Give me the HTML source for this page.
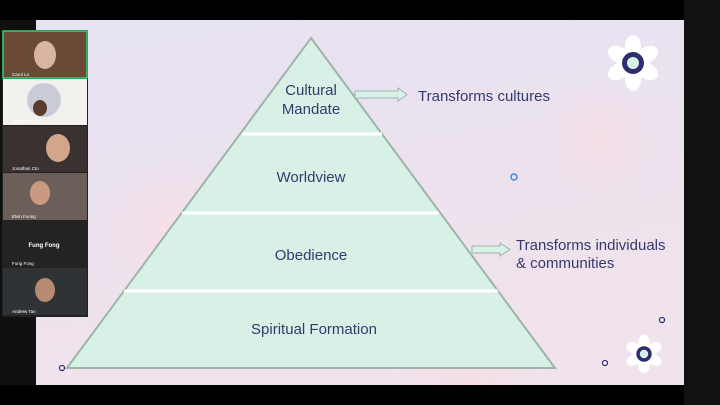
<!DOCTYPE html>
<html><head><style>
html,body{margin:0;padding:0;width:720px;height:405px;overflow:hidden;background:#000}
svg{display:block}
text{font-family:"Liberation Sans",sans-serif}
</style></head><body>
<svg width="720" height="405" viewBox="0 0 720 405" xmlns="http://www.w3.org/2000/svg">
<defs>
<linearGradient id="bg" x1="0" y1="0" x2="0.3" y2="1">
<stop offset="0" stop-color="#e6e2f2"/><stop offset="0.55" stop-color="#ece2ee"/><stop offset="1" stop-color="#f1e3ec"/>
</linearGradient>
<radialGradient id="pk" cx="0.5" cy="0.5" r="0.5"><stop offset="0" stop-color="#f6dfe8"/><stop offset="1" stop-color="#f6dfe8" stop-opacity="0"/></radialGradient>
<clipPath id="sl"><rect x="36" y="20" width="648" height="365"/></clipPath>
</defs>
<rect x="0" y="0" width="720" height="405" fill="#000"/>
<rect x="0" y="20" width="36" height="365" fill="#101010"/>
<rect x="684" y="0" width="36" height="405" fill="#111"/>
<rect x="36" y="20" width="648" height="365" fill="url(#bg)"/>
<g clip-path="url(#sl)">
<circle cx="170" cy="230" r="70" fill="url(#pk)"/>
<circle cx="600" cy="140" r="60" fill="url(#pk)"/>
<circle cx="470" cy="380" r="80" fill="url(#pk)"/>
</g>
<!-- video tiles -->
<rect x="2" y="30" width="86" height="287" fill="#222"/>
<rect x="3" y="31" width="84" height="47" fill="#6b4a35"/>
<ellipse cx="45" cy="55" rx="11" ry="14" fill="#d9b4a0"/>
<rect x="3" y="31" width="84" height="47" fill="none" stroke="#2ed573" stroke-width="1.5"/>
<rect x="3" y="79" width="84" height="46" fill="#f3f1ee"/>
<circle cx="44" cy="100" r="17" fill="#c9ccd6"/>
<ellipse cx="40" cy="108" rx="7" ry="8" fill="#5a3a2a"/>
<rect x="3" y="126" width="84" height="46" fill="#3a3230"/>
<ellipse cx="58" cy="148" rx="12" ry="14" fill="#d3a58a"/>
<rect x="3" y="173" width="84" height="47" fill="#6c5e58"/>
<ellipse cx="40" cy="193" rx="10" ry="12" fill="#c99a80"/>
<rect x="3" y="221" width="84" height="46" fill="#232323"/>
<text x="44" y="247" font-size="6" font-weight="bold" fill="#fff" text-anchor="middle">Fung Fong</text>
<rect x="3" y="268" width="84" height="47" fill="#2f3335"/>
<ellipse cx="45" cy="290" rx="10" ry="12" fill="#b88a72"/>
<g font-size="4.5" fill="#fff">
<text x="12" y="76">Carol Lo</text><text x="12" y="123">Esther Pardo</text><text x="12" y="170">Jonathan Cto</text><text x="12" y="218">Elvin Foong</text><text x="12" y="265">Fung Fong</text><text x="12" y="313">Andrew Tan</text>
</g>
<!-- pyramid -->
<polygon points="311,38 555,368 67,368" fill="#d8f1e7" stroke="#9fb3aa" stroke-width="2"/>
<g stroke="#fff" stroke-width="3">
<line x1="242" y1="134" x2="382" y2="134"/>
<line x1="182" y1="213" x2="439" y2="213"/>
<line x1="124" y1="291" x2="498" y2="291"/>
</g>
<g font-size="15" fill="#343a6b" text-anchor="middle">
<text x="311" y="95">Cultural</text>
<text x="311" y="114">Mandate</text>
<text x="311" y="182">Worldview</text>
<text x="311" y="260">Obedience</text>
<text x="314" y="334">Spiritual Formation</text>
</g>
<!-- arrows -->
<polygon points="355,91 398,91 398,88 407,94.5 398,101 398,98 355,98" fill="#d8f1e7" stroke="#9fb3aa" stroke-width="1"/>
<polygon points="472,246 500,246 500,243 510,249.5 500,256 500,253 472,253" fill="#d8f1e7" stroke="#9fb3aa" stroke-width="1"/>
<g font-size="15" fill="#343a6b">
<text x="418" y="101">Transforms cultures</text>
<text x="516" y="250">Transforms individuals</text>
<text x="516" y="268">&amp; communities</text>
</g>
<!-- cursor -->
<circle cx="514" cy="177" r="3" fill="none" stroke="#3a8de0" stroke-width="1.5"/>
<!-- flowers -->
<g transform="translate(633,63)" fill="#fff">
<g id="f1"><ellipse cx="0" cy="-16" rx="8" ry="12"/><ellipse cx="0" cy="-16" rx="8" ry="12" transform="rotate(60)"/><ellipse cx="0" cy="-16" rx="8" ry="12" transform="rotate(120)"/><ellipse cx="0" cy="-16" rx="8" ry="12" transform="rotate(180)"/><ellipse cx="0" cy="-16" rx="8" ry="12" transform="rotate(240)"/><ellipse cx="0" cy="-16" rx="8" ry="12" transform="rotate(300)"/></g>
<circle r="11" fill="#2e2e6e"/><circle r="6" fill="#d8f1e7"/>
</g>
<g transform="translate(644,354) scale(0.7)" fill="#fff">
<ellipse cx="0" cy="-16" rx="8" ry="12"/><ellipse cx="0" cy="-16" rx="8" ry="12" transform="rotate(60)"/><ellipse cx="0" cy="-16" rx="8" ry="12" transform="rotate(120)"/><ellipse cx="0" cy="-16" rx="8" ry="12" transform="rotate(180)"/><ellipse cx="0" cy="-16" rx="8" ry="12" transform="rotate(240)"/><ellipse cx="0" cy="-16" rx="8" ry="12" transform="rotate(300)"/>
<circle r="11" fill="#2e2e6e"/><circle r="6" fill="#d8f1e7"/>
</g>
<g fill="#fff" stroke="#2e2e6e" stroke-width="1.3">
<circle cx="662" cy="320" r="2.5"/><circle cx="605" cy="363" r="2.5"/><circle cx="62" cy="368" r="2.5"/>
</g>
</svg>
</body></html>
